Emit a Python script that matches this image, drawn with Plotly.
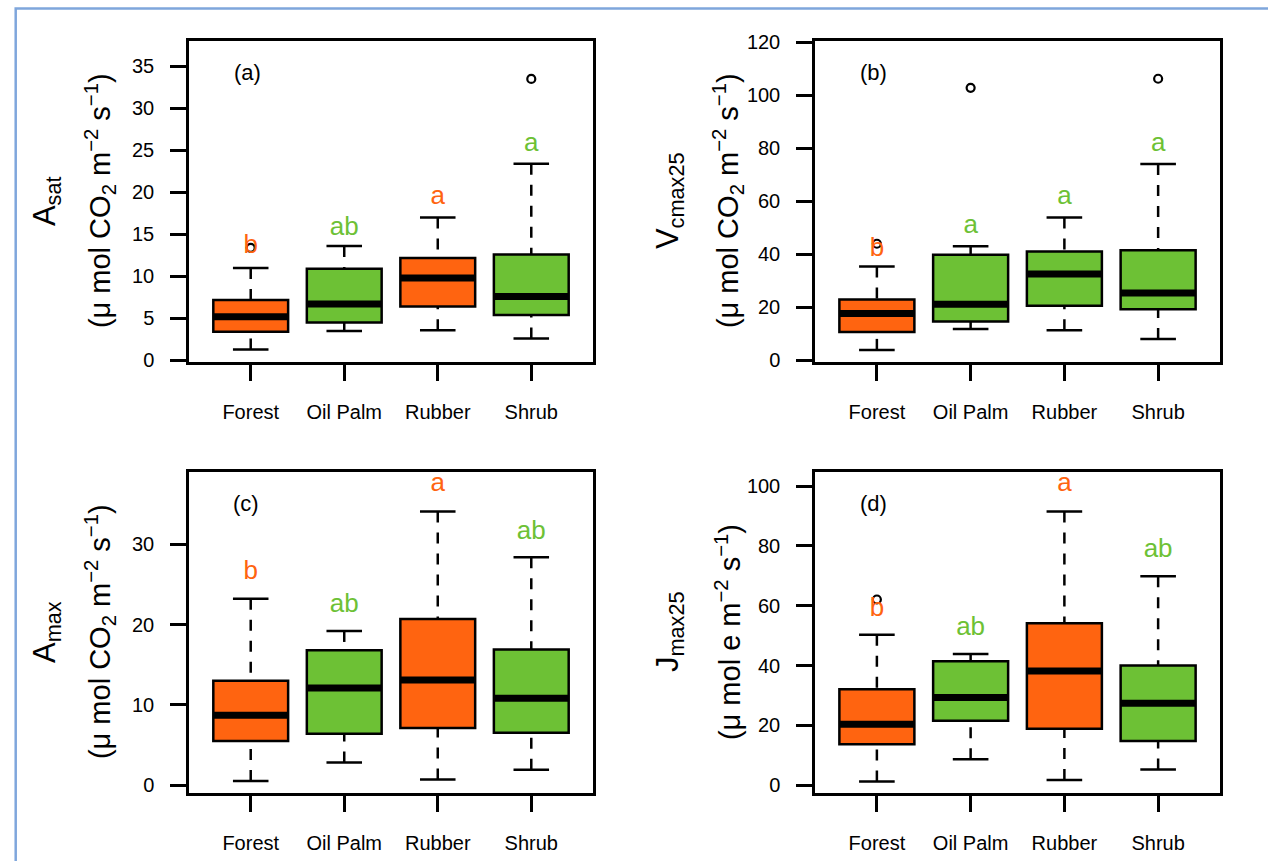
import plotly.graph_objects as go

W, H = 1268, 861
CATEGORIES = ["Forest", "Oil Palm", "Rubber", "Shrub"]
ORANGE = "#FF6410"
GREEN = "#6DC135"

# ---- (a) A_sat ----
ASAT_LOWER = [1.3, 3.5, 3.6, 2.6]
ASAT_Q1 = [3.4, 4.5, 6.4, 5.4]
ASAT_MED = [5.2, 6.7, 9.8, 7.6]
ASAT_Q3 = [7.2, 10.9, 12.2, 12.6]
ASAT_UPPER = [11.0, 13.6, 17.0, 23.4]
ASAT_OUT_X = [0, 3]
ASAT_OUT_Y = [13.4, 33.5]
ASAT_LETTERS = ["b", "ab", "a", "a"]
ASAT_LETTER_Y = [13.5, 15.7, 19.4, 25.7]
ASAT_COLORS = [ORANGE, GREEN, ORANGE, GREEN]
ASAT_TICKS = [0, 5, 10, 15, 20, 25, 30, 35]

# ---- (b) Vcmax25 ----
VCMAX_LOWER = [4.0, 11.9, 11.4, 8.1]
VCMAX_Q1 = [10.7, 14.7, 20.6, 19.3]
VCMAX_MED = [17.7, 21.2, 32.6, 25.4]
VCMAX_Q3 = [23.0, 39.9, 41.1, 41.6]
VCMAX_UPPER = [35.4, 43.1, 53.9, 74.1]
VCMAX_OUT_X = [0, 1, 3]
VCMAX_OUT_Y = [44.0, 102.8, 106.2]
VCMAX_LETTERS = ["b", "a", "a", "a"]
VCMAX_LETTER_Y = [42.0, 50.5, 61.3, 81.6]
VCMAX_COLORS = [ORANGE, GREEN, GREEN, GREEN]
VCMAX_TICKS = [0, 20, 40, 60, 80, 100, 120]

# ---- (c) A_max ----
AMAX_LOWER = [0.5, 2.8, 0.7, 1.9]
AMAX_Q1 = [5.5, 6.4, 7.1, 6.5]
AMAX_MED = [8.7, 12.1, 13.1, 10.8]
AMAX_Q3 = [13.0, 16.8, 20.7, 16.9]
AMAX_UPPER = [23.2, 19.2, 34.1, 28.4]
AMAX_OUT_X = []
AMAX_OUT_Y = []
AMAX_LETTERS = ["b", "ab", "a", "ab"]
AMAX_LETTER_Y = [26.5, 22.4, 37.5, 31.5]
AMAX_COLORS = [ORANGE, GREEN, ORANGE, GREEN]
AMAX_TICKS = [0, 10, 20, 30]

# ---- (d) Jmax25 ----
JMAX_LOWER = [1.3, 8.7, 1.8, 5.3]
JMAX_Q1 = [13.7, 21.6, 18.9, 14.8]
JMAX_MED = [20.4, 29.3, 38.2, 27.4]
JMAX_Q3 = [32.1, 41.5, 54.2, 40.0]
JMAX_UPPER = [50.3, 43.9, 91.5, 69.9]
JMAX_OUT_X = [0]
JMAX_OUT_Y = [62.1]
JMAX_LETTERS = ["b", "ab", "a", "ab"]
JMAX_LETTER_Y = [58.8, 52.3, 100.6, 78.5]
JMAX_COLORS = [ORANGE, GREEN, ORANGE, GREEN]
JMAX_TICKS = [0, 20, 40, 60, 80, 100]

FONT = "Liberation Sans, Arial, Helvetica, sans-serif"
BOXW = 0.8
CAPW = 0.19

fig = go.Figure()


def add_panel(n, lower, q1, med, q3, upper, out_x, out_y, letters, letter_y, colors):
    xa = "x" if n == 1 else f"x{n}"
    ya = "y" if n == 1 else f"y{n}"
    pos = list(range(len(CATEGORIES)))
    common = dict(xaxis=xa, yaxis=ya, hoverinfo="skip", showlegend=False)
    # dashed whiskers
    wx, wy = [], []
    for i in pos:
        wx += [i, i, None, i, i, None]
        wy += [upper[i], q3[i], None, lower[i], q1[i], None]
    fig.add_trace(go.Scatter(x=wx, y=wy, mode="lines",
                             line=dict(color="black", width=2.5, dash="11px,10px"), **common))
    # boxes
    fig.add_trace(go.Bar(x=pos, y=[q3[i] - q1[i] for i in pos], base=q1, width=BOXW,
                         marker=dict(color=colors, line=dict(color="black", width=2.5)),
                         **common))
    # medians
    mx, my = [], []
    for i in pos:
        mx += [i - BOXW / 2, i + BOXW / 2, None]
        my += [med[i], med[i], None]
    fig.add_trace(go.Scatter(x=mx, y=my, mode="lines",
                             line=dict(color="black", width=7), **common))
    # caps
    cx, cy = [], []
    for i in pos:
        cx += [i - CAPW, i + CAPW, None, i - CAPW, i + CAPW, None]
        cy += [upper[i], upper[i], None, lower[i], lower[i], None]
    fig.add_trace(go.Scatter(x=cx, y=cy, mode="lines",
                             line=dict(color="black", width=2.5), **common))
    # outliers
    if out_x:
        fig.add_trace(go.Scatter(x=out_x, y=out_y, mode="markers",
                                 marker=dict(symbol="circle-open", size=8, color="black",
                                             line=dict(width=2.2, color="black")), **common))
    # significance letters
    fig.add_trace(go.Scatter(x=pos, y=letter_y, mode="text", text=letters,
                             textposition="middle center",
                             textfont=dict(family=FONT, size=26, color=colors), **common))


add_panel(1, ASAT_LOWER, ASAT_Q1, ASAT_MED, ASAT_Q3, ASAT_UPPER, ASAT_OUT_X, ASAT_OUT_Y,
          ASAT_LETTERS, ASAT_LETTER_Y, ASAT_COLORS)
add_panel(2, VCMAX_LOWER, VCMAX_Q1, VCMAX_MED, VCMAX_Q3, VCMAX_UPPER, VCMAX_OUT_X, VCMAX_OUT_Y,
          VCMAX_LETTERS, VCMAX_LETTER_Y, VCMAX_COLORS)
add_panel(3, AMAX_LOWER, AMAX_Q1, AMAX_MED, AMAX_Q3, AMAX_UPPER, AMAX_OUT_X, AMAX_OUT_Y,
          AMAX_LETTERS, AMAX_LETTER_Y, AMAX_COLORS)
add_panel(4, JMAX_LOWER, JMAX_Q1, JMAX_MED, JMAX_Q3, JMAX_UPPER, JMAX_OUT_X, JMAX_OUT_Y,
          JMAX_LETTERS, JMAX_LETTER_Y, JMAX_COLORS)

# vertical placement correction (observed rendering offset/scale)
SY, OY = 0.978, 8.9


def px_x(v):
    return v / W


def px_y(v):
    return 1 - ((v - OY) / SY) / H


LEFT_X = [189, 593]
RIGHT_X = [815, 1220]
TOP_Y = [40, 361]
BOT_Y = [471, 792]

panels = [
    (LEFT_X, TOP_Y, [-0.2, 38.0], ASAT_TICKS),
    (RIGHT_X, TOP_Y, [-0.6, 120.4], VCMAX_TICKS),
    (LEFT_X, BOT_Y, [-1.0, 39.0], AMAX_TICKS),
    (RIGHT_X, BOT_Y, [-2.6, 104.7], JMAX_TICKS),
]

layout = dict(
    width=W, height=H, autosize=False,
    margin=dict(l=0, r=0, t=0, b=0),
    paper_bgcolor="white", plot_bgcolor="white",
    barmode="overlay", showlegend=False,
    font=dict(family=FONT, color="black"),
)

for k, (xd, yd, yr, yt) in enumerate(panels, start=1):
    sx = "" if k == 1 else str(k)
    layout[f"xaxis{sx}"] = dict(
        domain=[px_x(xd[0]), px_x(xd[1])], range=[-0.66, 3.66],
        tickmode="array", tickvals=list(range(len(CATEGORIES))), ticktext=CATEGORIES,
        ticks="outside", ticklen=16, tickwidth=2.5, tickcolor="black",
        showline=True, linewidth=2.5, linecolor="black", mirror=True,
        showgrid=False, zeroline=False, anchor=f"y{sx}",
        tickfont=dict(size=20, color="black", family=FONT), ticklabelstandoff=14,
        fixedrange=True,
    )
    layout[f"yaxis{sx}"] = dict(
        domain=[px_y(yd[1]), px_y(yd[0])], range=yr,
        tickmode="array", tickvals=yt, ticktext=[str(t) for t in yt],
        ticks="outside", ticklen=16, tickwidth=2.5, tickcolor="black",
        showline=True, linewidth=2.5, linecolor="black", mirror=True,
        showgrid=False, zeroline=False, anchor=f"x{sx}",
        tickfont=dict(size=20, color="black", family=FONT), ticklabelstandoff=12,
        fixedrange=True,
    )

fig.update_layout(**layout)

UNITS_CO2 = "(μ mol CO<sub>2</sub> m<sup>−2</sup> s<sup>−1</sup>)"
UNITS_E = "(μ mol e m<sup>−2</sup> s<sup>−1</sup>)"
titles = [
    ("A<sub>sat</sub>", UNITS_CO2, 47, 100, 200),
    ("V<sub>cmax25</sub>", UNITS_CO2, 670, 728, 200),
    ("A<sub>max</sub>", UNITS_CO2, 47, 100, 631),
    ("J<sub>max25</sub>", UNITS_E, 670, 728, 631),
]
annotations = []
for main, units, x1, x2, yc in titles:
    annotations.append(dict(text=main, x=px_x(x1), y=px_y(yc), xref="paper", yref="paper",
                            xanchor="center", yanchor="middle", textangle=-90, showarrow=False,
                            font=dict(size=31, color="black", family=FONT)))
    annotations.append(dict(text=units, x=px_x(x2), y=px_y(yc), xref="paper", yref="paper",
                            xanchor="center", yanchor="middle", textangle=-90, showarrow=False,
                            font=dict(size=29, color="black", family=FONT)))

for lab, x, y in [("(a)", 247, 71), ("(b)", 873, 71), ("(c)", 246, 502), ("(d)", 873, 502)]:
    annotations.append(dict(text=lab, x=px_x(x), y=px_y(y), xref="paper", yref="paper",
                            xanchor="center", yanchor="middle", showarrow=False,
                            font=dict(size=22, color="black", family=FONT)))

fig.update_layout(annotations=annotations)

fig.add_shape(type="rect", xref="paper", yref="paper",
              x0=px_x(15.7), x1=1.05, y0=-0.05, y1=px_y(7.5),
              line=dict(color="#7FA6DC", width=2.5), fillcolor="rgba(0,0,0,0)", layer="above")

fig.write_html("out.html")
